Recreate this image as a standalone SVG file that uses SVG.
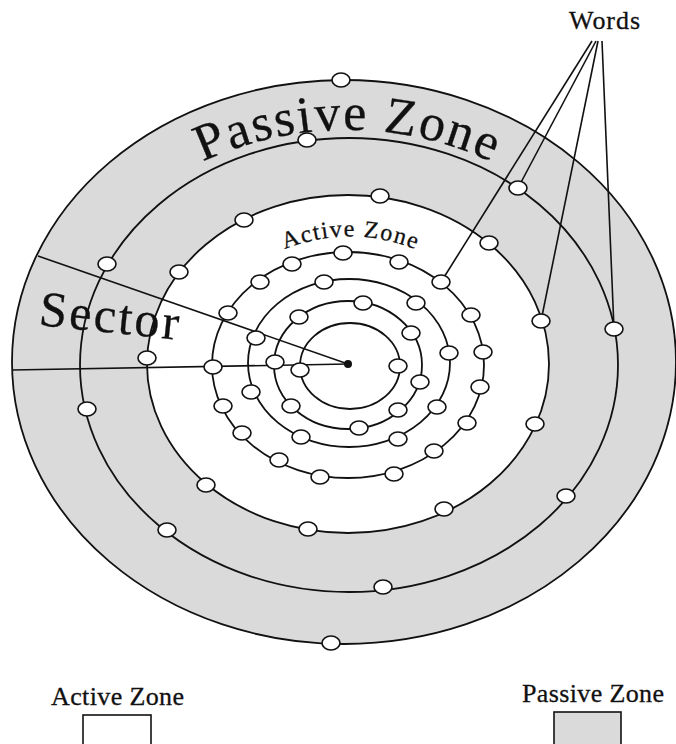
<svg xmlns="http://www.w3.org/2000/svg" width="676" height="744" viewBox="0 0 676 744">
<style>
.ring{fill:none;stroke:#111;stroke-width:1.8}
.ln{stroke:#111;stroke-width:1.6;fill:none}
.nd{fill:#fff;stroke:#111;stroke-width:1.6}
.t{font-family:"Liberation Serif","Times New Roman",serif;fill:#111;stroke:#111;stroke-width:0.3}
</style>
<defs>
<path id="pz" d="M 4,473 A 343 343 0 0 1 690,473"/>
<path id="az" d="M 278,252 Q 350,221 422,252"/>
</defs>
<rect width="676" height="744" fill="#fff"/>
<g id="zones">
<ellipse cx="344" cy="362" rx="332" ry="282" fill="#dadada" stroke="#111" stroke-width="1.8"/>
<ellipse class="ring" cx="349" cy="365" rx="269" ry="227"/>
<ellipse cx="348" cy="364" rx="201" ry="169" fill="#fff" stroke="#111" stroke-width="1.8"/>
<ellipse class="ring" cx="348" cy="365" rx="136" ry="113"/>
<ellipse class="ring" cx="349" cy="363" rx="101" ry="84"/>
<ellipse class="ring" cx="348" cy="365" rx="74" ry="64"/>
<ellipse class="ring" cx="350" cy="366" rx="50" ry="43"/>
</g>
<g id="connectors">
<line class="ln" x1="38" y1="256" x2="348" y2="364"/>
<line class="ln" x1="12" y1="370" x2="348" y2="364"/>
<line class="ln" x1="592" y1="41" x2="441" y2="282"/>
<line class="ln" x1="596" y1="41" x2="518" y2="188"/>
<line class="ln" x1="598" y1="41" x2="541" y2="321"/>
<line class="ln" x1="602" y1="41" x2="614" y2="329"/>
</g>
<g id="center"><circle cx="348" cy="364" r="4" fill="#111"/></g>
<g id="n1a"><ellipse class="nd" cx="341" cy="80" rx="9" ry="7"/></g>
<g id="n1b"><ellipse class="nd" cx="331" cy="643" rx="9" ry="7"/></g>
<g id="n2a"><ellipse class="nd" cx="307" cy="140" rx="9" ry="7"/></g>
<g id="n2b"><ellipse class="nd" cx="518" cy="188" rx="9" ry="7"/></g>
<g id="n2c"><ellipse class="nd" cx="614" cy="329" rx="9" ry="7"/></g>
<g id="n2d"><ellipse class="nd" cx="566" cy="496" rx="9" ry="7"/></g>
<g id="n2e"><ellipse class="nd" cx="383" cy="587" rx="9" ry="7"/></g>
<g id="n2f"><ellipse class="nd" cx="167" cy="530" rx="9" ry="7"/></g>
<g id="n2g"><ellipse class="nd" cx="87" cy="409" rx="9" ry="7"/></g>
<g id="n2h"><ellipse class="nd" cx="107" cy="264" rx="9" ry="7"/></g>
<g id="n3a"><ellipse class="nd" cx="380" cy="196" rx="9" ry="7"/></g>
<g id="n3b"><ellipse class="nd" cx="244" cy="220" rx="9" ry="7"/></g>
<g id="n3c"><ellipse class="nd" cx="179" cy="272" rx="9" ry="7"/></g>
<g id="n3d"><ellipse class="nd" cx="147" cy="358" rx="9" ry="7"/></g>
<g id="n3e"><ellipse class="nd" cx="206" cy="485" rx="9" ry="7"/></g>
<g id="n3f"><ellipse class="nd" cx="308" cy="529" rx="9" ry="7"/></g>
<g id="n3g"><ellipse class="nd" cx="444" cy="509" rx="9" ry="7"/></g>
<g id="n3h"><ellipse class="nd" cx="535" cy="424" rx="9" ry="7"/></g>
<g id="n3i"><ellipse class="nd" cx="541" cy="321" rx="9" ry="7"/></g>
<g id="n3j"><ellipse class="nd" cx="489" cy="243" rx="9" ry="7"/></g>
<g id="n4a"><ellipse class="nd" cx="343" cy="253" rx="9" ry="7"/></g>
<g id="n4b"><ellipse class="nd" cx="292" cy="264" rx="9" ry="7"/></g>
<g id="n4c"><ellipse class="nd" cx="399" cy="262" rx="9" ry="7"/></g>
<g id="n4d"><ellipse class="nd" cx="441" cy="282" rx="9" ry="7"/></g>
<g id="n4e"><ellipse class="nd" cx="260" cy="282" rx="9" ry="7"/></g>
<g id="n4f"><ellipse class="nd" cx="228" cy="313" rx="9" ry="7"/></g>
<g id="n4g"><ellipse class="nd" cx="471" cy="315" rx="9" ry="7"/></g>
<g id="n4h"><ellipse class="nd" cx="483" cy="352" rx="9" ry="7"/></g>
<g id="n4i"><ellipse class="nd" cx="213" cy="367" rx="9" ry="7"/></g>
<g id="n4j"><ellipse class="nd" cx="480" cy="387" rx="9" ry="7"/></g>
<g id="n4k"><ellipse class="nd" cx="223" cy="406" rx="9" ry="7"/></g>
<g id="n4l"><ellipse class="nd" cx="467" cy="423" rx="9" ry="7"/></g>
<g id="n4m"><ellipse class="nd" cx="242" cy="433" rx="9" ry="7"/></g>
<g id="n4n"><ellipse class="nd" cx="434" cy="451" rx="9" ry="7"/></g>
<g id="n4o"><ellipse class="nd" cx="279" cy="460" rx="9" ry="7"/></g>
<g id="n4p"><ellipse class="nd" cx="394" cy="474" rx="9" ry="7"/></g>
<g id="n4q"><ellipse class="nd" cx="320" cy="477" rx="9" ry="7"/></g>
<g id="n5a"><ellipse class="nd" cx="324" cy="282" rx="9" ry="7"/></g>
<g id="n5b"><ellipse class="nd" cx="416" cy="303" rx="9" ry="7"/></g>
<g id="n5c"><ellipse class="nd" cx="256" cy="338" rx="9" ry="7"/></g>
<g id="n5d"><ellipse class="nd" cx="449" cy="353" rx="9" ry="7"/></g>
<g id="n5e"><ellipse class="nd" cx="251" cy="392" rx="9" ry="7"/></g>
<g id="n5f"><ellipse class="nd" cx="437" cy="407" rx="9" ry="7"/></g>
<g id="n5g"><ellipse class="nd" cx="301" cy="437" rx="9" ry="7"/></g>
<g id="n5h"><ellipse class="nd" cx="398" cy="439" rx="9" ry="7"/></g>
<g id="n6a"><ellipse class="nd" cx="363" cy="303" rx="9" ry="7"/></g>
<g id="n6b"><ellipse class="nd" cx="299" cy="317" rx="9" ry="7"/></g>
<g id="n6c"><ellipse class="nd" cx="411" cy="333" rx="9" ry="7"/></g>
<g id="n6d"><ellipse class="nd" cx="275" cy="362" rx="9" ry="7"/></g>
<g id="n6e"><ellipse class="nd" cx="420" cy="382" rx="9" ry="7"/></g>
<g id="n6f"><ellipse class="nd" cx="291" cy="406" rx="9" ry="7"/></g>
<g id="n6g"><ellipse class="nd" cx="398" cy="410" rx="9" ry="7"/></g>
<g id="n6h"><ellipse class="nd" cx="359" cy="428" rx="9" ry="7"/></g>
<g id="n7a"><ellipse class="nd" cx="300" cy="370" rx="9" ry="7"/></g>
<g id="n7b"><ellipse class="nd" cx="398" cy="366" rx="9" ry="7"/></g>
<g id="labels">
<text class="t" font-size="52"><textPath href="#pz" startOffset="50%" text-anchor="middle" textLength="298" lengthAdjust="spacing">Passive Zone</textPath></text>
<text class="t" font-size="24"><textPath href="#az" startOffset="50%" text-anchor="middle" textLength="134" lengthAdjust="spacing">Active Zone</textPath></text>
<text class="t" font-size="50" x="38" y="325" textLength="140" lengthAdjust="spacing" transform="rotate(6 38 325)">Sector</text>
<text class="t" font-size="26" x="569" y="29" textLength="71" lengthAdjust="spacing">Words</text>
</g>
<g id="legend-active">
<text class="t" font-size="26" x="51" y="705" textLength="133" lengthAdjust="spacing">Active Zone</text>
<rect x="83" y="715" width="68" height="40" fill="#fff" stroke="#111" stroke-width="1.6"/>
</g>
<g id="legend-passive">
<text class="t" font-size="26" x="522" y="702" textLength="142" lengthAdjust="spacing">Passive Zone</text>
<rect x="554" y="712" width="67" height="40" fill="#dadada" stroke="#111" stroke-width="1.6"/>
</g>
</svg>
